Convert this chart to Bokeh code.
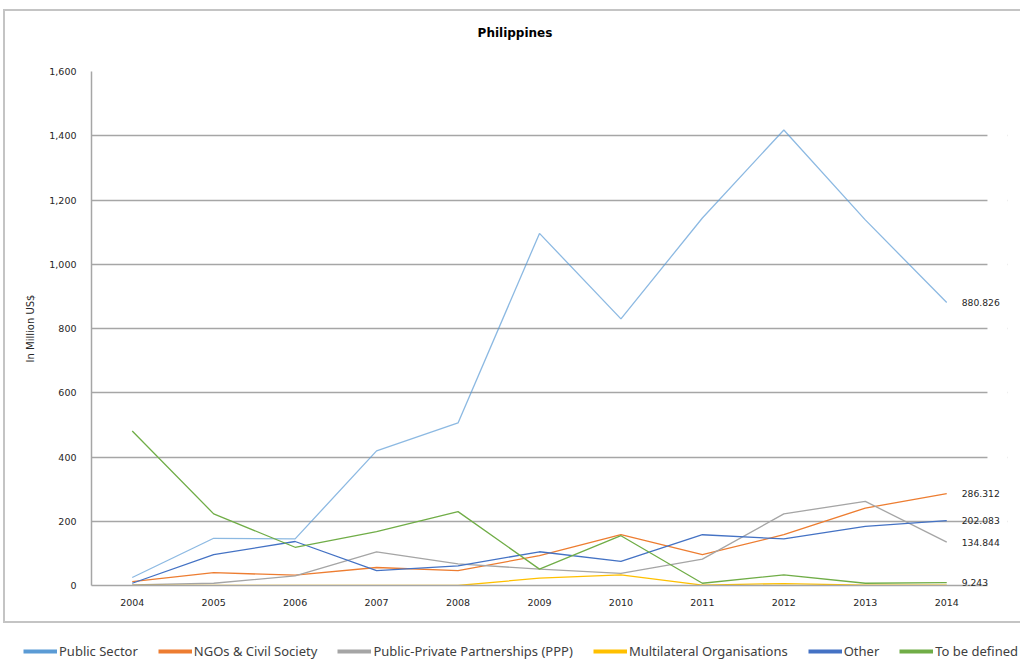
from bokeh.plotting import figure
from bokeh.models import Legend, LegendItem, ColumnDataSource, Range1d, NumeralTickFormatter, FixedTicker, BoxAnnotation, Div
from bokeh.embed import file_html
from bokeh.resources import INLINE
from bokeh.core.properties import value

years = ["2004", "2005", "2006", "2007", "2008", "2009", "2010", "2011", "2012", "2013", "2014"]

public_sector = [25, 147, 145, 419, 506, 1096, 830, 1144, 1418, 1138, 880.826]
ngos = [12, 40, 32, 56, 46, 93, 158, 96, 158, 241, 286.312]
ppp = [2, 7, 30, 105, 67, 51, 38, 82, 223, 262, 134.844]
multilateral = [0, 0, 0, 0, 0, 23, 33, 1, 6, 1, 1]
other = [7, 96, 137, 46, 61, 105, 75, 158, 145, 184, 202.083]
to_be_defined = [481, 223, 119, 168, 230, 51, 155, 7, 33, 7, 9.243]

series_names = ["Public Sector", "NGOs & Civil Society", "Public-Private Partnerships (PPP)",
                "Multilateral Organisations", "Other", "To be defined"]
series_values = [public_sector, ngos, ppp, multilateral, other, to_be_defined]
colors = ["#5b9bd5", "#ed7d31", "#a5a5a5", "#ffc000", "#4472c4", "#70ad47"]
line_alphas = [0.7, 1, 1, 1, 1, 1]

labelled = ["Public Sector", "NGOs & Civil Society", "Public-Private Partnerships (PPP)", "Other", "To be defined"]

title_text = "Philippines"
FONT = "DejaVu Sans"
BORDER = "2px solid #c4c4c4"

# category positions along the x axis (index of each year)
xpos = list(range(len(years)))
n = len(years)

title_div = Div(text=title_text, width=1017, height=38, margin=(9, 0, 0, 3),
                styles={"border-top": BORDER, "border-left": BORDER,
                        "box-sizing": "border-box", "padding-top": "15px",
                        "padding-left": "5px", "text-align": "center", "font-family": FONT,
                        "font-weight": "bold", "font-size": "12px", "line-height": "14px",
                        "color": "#000000"})

p = figure(width=1017, height=576, x_range=Range1d(-0.5, n - 0.5 + 0.246),
           y_range=Range1d(0, 1600), output_backend="svg", toolbar_location=None,
           min_border_left=86, min_border_right=15, min_border_top=24, min_border_bottom=38,
           margin=(0, 0, 0, 3))
p.outline_line_color = None
p.styles = {"border-left": BORDER, "border-bottom": BORDER, "box-sizing": "border-box"}

for name, vals, c, a in zip(series_names, series_values, colors, line_alphas):
    p.line(x=xpos, y=vals, line_color=c, line_width=1.3, line_alpha=a)

# mask the grid to the right of the last category band
p.add_layout(BoxAnnotation(left=n - 0.5, fill_color="white", fill_alpha=1, line_color=None))

end_y = [v[-1] for nm, v in zip(series_names, series_values) if nm in labelled]
end_t = ["%.3f" % y for y in end_y]
src = ColumnDataSource(dict(x=[xpos[-1]] * len(end_y), y=end_y, t=end_t))
p.text(x="x", y="y", text="t", source=src, x_offset=15, text_baseline="middle",
       text_font=value(FONT), text_font_size="9.2px", text_color="#262626", level="overlay")

p.yaxis.ticker = FixedTicker(ticks=list(range(0, 1601, 200)))
p.yaxis.formatter = NumeralTickFormatter(format="0,0")
p.yaxis.major_tick_line_color = None
p.yaxis.minor_tick_line_color = None
p.yaxis.axis_line_color = "#a6a6a6"
p.yaxis.axis_line_width = 1.5
p.yaxis.major_label_standoff = 9
p.yaxis.major_label_text_font = FONT
p.yaxis.major_label_text_font_size = "9.5px"
p.yaxis.major_label_text_color = "#262626"
p.yaxis.axis_label = "In Million US$"
p.yaxis.axis_label_text_font = FONT
p.yaxis.axis_label_text_font_style = "normal"
p.yaxis.axis_label_text_font_size = "10px"
p.yaxis.axis_label_text_color = "#262626"
p.yaxis.axis_label_standoff = 10

p.xaxis.ticker = FixedTicker(ticks=xpos)
p.xaxis.major_label_overrides = {i: y for i, y in zip(xpos, years)}
p.xaxis.bounds = (-0.5, n - 0.5)
p.xaxis.major_tick_line_color = None
p.xaxis.minor_tick_line_color = None
p.xaxis.axis_line_color = "#a6a6a6"
p.xaxis.axis_line_width = 1.5
p.xaxis.major_label_standoff = 7
p.xaxis.major_label_text_font = FONT
p.xaxis.major_label_text_font_size = "9.5px"
p.xaxis.major_label_text_color = "#262626"

p.xgrid.grid_line_color = None
p.ygrid.grid_line_color = "#a6a6a6"
p.ygrid.grid_line_width = 1.5

# legend figure
lg = figure(width=1020, height=38, output_backend="svg", toolbar_location=None,
            min_border=0, min_border_left=0, min_border_right=0, min_border_top=0, min_border_bottom=0,
            x_range=Range1d(0, 1), y_range=Range1d(0, 1),
            x_axis_type=None, y_axis_type=None, margin=0)
lg.outline_line_color = None
lg.grid.visible = False
items = []
for name, c in zip(series_names, colors):
    r = lg.line(x=[5, 6], y=[5, 6], line_color=c, line_width=4)
    items.append(LegendItem(label=name, renderers=[r]))
legend = Legend(items=items, orientation="horizontal", location=(23, 1),
                glyph_width=34, glyph_height=16, label_standoff=2, spacing=20,
                padding=0, margin=0, border_line_color=None, background_fill_alpha=0,
                label_text_font="Noto Sans", label_text_font_size="13px", label_text_color="#404040",
                label_height=16)
lg.add_layout(legend, "center")

open("out.html", "w").write(file_html([title_div, p, lg], INLINE))
